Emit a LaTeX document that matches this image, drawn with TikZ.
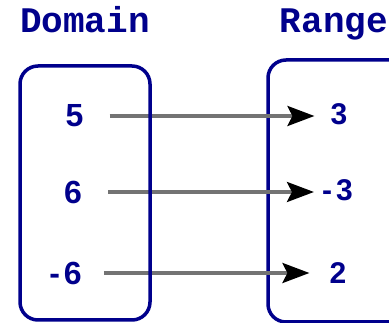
\documentclass[tikz,border=0pt]{standalone}
\usepackage{fontspec}
\usetikzlibrary{arrows.meta}
\newfontfamily\titlefont{Liberation Mono}
\newfontfamily\numfont{Liberation Sans}
\definecolor{setblue}{RGB}{0,0,140}
\definecolor{mapgray}{RGB}{115,115,115}
\newcommand{\negnum}[1]{-\kern4pt#1}
\tikzset{
  setbox/.style={draw=setblue, line width=3.5pt, rounded corners=18pt, inner sep=0pt},
  heading/.style={text=setblue, anchor=base, inner sep=0pt,
    font=\titlefont\bfseries\fontsize{36}{36}\selectfont},
  elem/.style={text=setblue, inner sep=0pt,
    font=\numfont\bfseries\fontsize{32}{32}\selectfont},
  relem/.style={elem, font=\numfont\bfseries\fontsize{30}{30}\selectfont},
  maparrow/.style={draw=mapgray, line width=3.5pt,
    -{Stealth[length=27pt, width=20pt, inset=5pt, color=black]}}
}
\begin{document}
\begin{tikzpicture}[x=1pt, y=-1pt]
  \useasboundingbox (0,0) rectangle (389,323);
  \clip (0,0) rectangle (389,323);
  % headings
  \node[heading] (domtitle) at (85,33) {Domain};
  \node[heading] (rantitle) at (334,33) {Range};
  % range set (drawn beneath the arrows, running past the right edge)
  \node[setbox, minimum width=144pt, minimum height=262pt] (ran) at (340,191) {};
  % elements
  \node[elem]  (d5)  at (74.5,116) {5};
  \node[elem]  (d6)  at (73,192)   {6};
  \node[elem]  (dm6) at (65.5,273) {\negnum{6}};
  \node[relem] (r3)  at (339,114)  {3};
  \node[relem] (rm3) at (337.5,190) {\negnum{3}};
  \node[relem] (r2)  at (338,273)  {2};
  % mapping arrows
  \draw[maparrow, shorten <=26pt, shorten >=16pt] (d5.east) -- (d5.east -| r3.west);
  \draw[maparrow, shorten <=26pt, shorten >=8pt]  (d6.east) -- (d6.east -| rm3.west);
  \draw[maparrow, shorten <=22pt, shorten >=20pt] (dm6.east) -- (dm6.east -| r2.west);
  % domain set (drawn over the arrows)
  \node[setbox, minimum width=130pt, minimum height=254pt] (dom) at (85,193) {};
\end{tikzpicture}
\end{document}
